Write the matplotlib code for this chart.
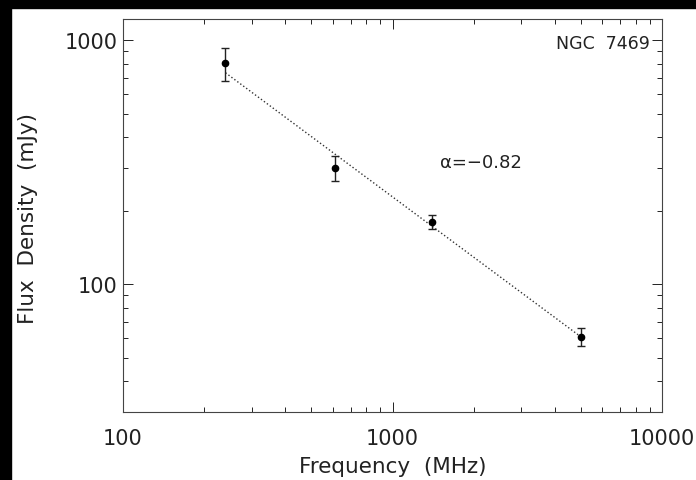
import numpy as np
import matplotlib
matplotlib.use('Agg')
import matplotlib.pyplot as plt
from matplotlib.patches import Rectangle

# data
freq = np.array([240, 610, 1400, 5000])      # MHz
flux = np.array([805, 300, 180, 61])         # mJy
err = np.array([125, 35, 12, 5])
alpha = -0.82

# power-law normalisation with fixed index
logA = np.mean(np.log10(flux) - alpha*np.log10(freq))
nu_fit = np.array([freq[0], freq[-1]])
s_fit = 10**logA * nu_fit**alpha

plt.rcParams['font.family'] = 'DejaVu Sans'
fig = plt.figure(figsize=(6.96, 4.81), dpi=100)
fig.patch.set_facecolor('white')
# black frame at the top and left of the scan
fig.patches.append(Rectangle((0, 1-9/481), 1, 9/481, transform=fig.transFigure,
                             color='black', zorder=0))
fig.patches.append(Rectangle((0, 0), 11/696, 1, transform=fig.transFigure,
                             color='black', zorder=0))

ax = fig.add_axes([123/696, 1-413/481, 539/696, 393/481])
ax.set_xscale('log')
ax.set_yscale('log')
ax.set_xlim(100, 10000)
ax.set_ylim(30, 1220)

ax.plot(nu_fit, s_fit, ':', color='#333333', lw=1.0)
ax.errorbar(freq, flux, yerr=err, fmt='o', color='black', ms=4.5,
            ecolor='#222222', elinewidth=1.0, capsize=3, capthick=1.0)

ax.set_xticks([100, 1000, 10000])
ax.set_xticklabels(['100', '1000', '10000'])
ax.set_yticks([100, 1000])
ax.set_yticklabels(['100', '1000'])
ax.tick_params(which='major', direction='in', length=7, width=0.7,
               top=True, right=True, labelsize=15, colors='#222222')
ax.tick_params(which='minor', direction='in', length=3.5, width=0.6,
               top=True, right=True)
ax.tick_params(axis='x', which='major', pad=11.5)
ax.tick_params(axis='y', which='major', pad=4)
ax.yaxis.set_minor_formatter(plt.NullFormatter())
ax.xaxis.set_minor_formatter(plt.NullFormatter())
for s in ax.spines.values():
    s.set_linewidth(0.8)
    s.set_color('#444444')

ax.set_xlabel('Frequency  (MHz)', fontsize=15.5, color='#222222')
ax.set_ylabel('Flux  Density  (mJy)', fontsize=15.5, color='#222222')
ax.xaxis.set_label_coords(0.50, -0.112)
ax.yaxis.set_label_coords(-0.158, 0.494)

ax.text(0.978, 0.94, 'NGC  7469', transform=ax.transAxes, ha='right', va='center',
        fontsize=12.5, color='#222222')
ax.text(0.665, 0.636, '\u03b1=\u22120.82', transform=ax.transAxes, ha='center',
        va='center', fontsize=13, color='#222222')

fig.savefig('out.png', dpi=100)
